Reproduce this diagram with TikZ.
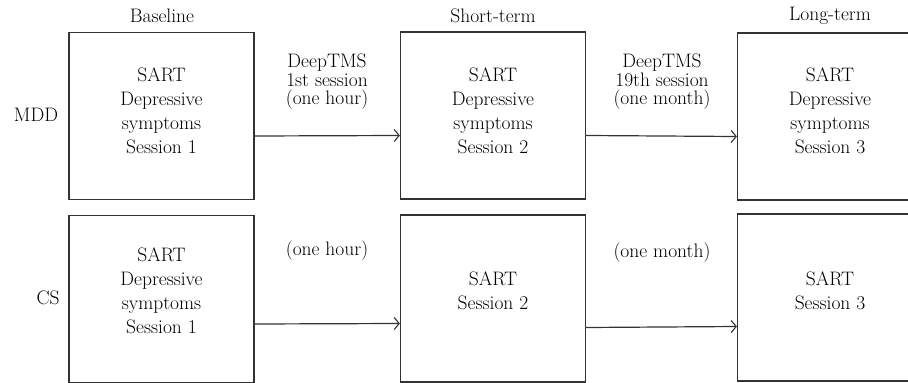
\documentclass[tikz,border=0pt]{standalone}
\usetikzlibrary{arrows.meta}
\begin{document}
\begin{tikzpicture}[x=1pt,y=-1pt,
  box/.style={draw=black!80,line width=1.2pt,minimum width=185pt,minimum height=167pt,inner sep=0pt},
  boxtext/.style={align=center,font=\fontsize{19.5}{24}\selectfont},
  lab/.style={align=center,font=\fontsize{19.5}{18.5}\selectfont},
  arr/.style={draw=black!80,line width=1.2pt,-{Straight Barb[length=5pt,width=12pt,line width=1.1pt]}}]
\useasboundingbox (0,0) rectangle (908,383);
% boxes
\node[box] (m1) at (161.5,116) {};
\node[box] (m2) at (493,115.5) {};
\node[box] (m3) at (830,116.5) {};
\node[box] (c1) at (161.5,299) {};
\node[box] (c2) at (493,298.5) {};
\node[box] (c3) at (830,297.5) {};
% box texts
\node[boxtext] (tm1) at (161.5,111) {SART\\Depressive\\symptoms\\Session 1};
\node[boxtext] (tm2) at (493,111) {SART\\Depressive\\symptoms\\Session 2};
\node[boxtext] (tm3) at (830,111) {SART\\Depressive\\symptoms\\Session 3};
\node[boxtext] (tc1) at (161.5,291) {SART\\Depressive\\symptoms\\Session 1};
\node[boxtext] (tc2) at (493,290.5) {SART\\Session 2};
\node[boxtext] (tc3) at (830,290.5) {SART\\Session 3};
% headers
\node[lab] (h1) at (162,16) {Baseline};
\node[lab] (h2) at (493,16) {Short-term};
\node[lab] (h3) at (830,16) {Long-term};
\node[lab] (g1) at (36,115) {MDD};
\node[lab] (g2) at (48,298) {CS};
% arrow labels
\node[lab] (a1) at (327,82) {DeepTMS\\1st session\\(one hour)};
\node[lab] (a2) at (662,82) {DeepTMS\\19th session\\(one month)};
\node[lab] (a3) at (327,251) {(one hour)};
\node[lab] (a4) at (662,253) {(one month)};
% arrows
\draw[arr] ([yshift=-20pt]m1.east) -- ([yshift=-20pt]m2.west);
\draw[arr] ([yshift=-20pt]m2.east) -- ([yshift=-20pt]m3.west);
\draw[arr] ([yshift=-25pt]c1.east) -- ([yshift=-25pt]c2.west);
\draw[arr] ([yshift=-29pt]c2.east) -- ([yshift=-29pt]c3.west);
\end{tikzpicture}
\end{document}
